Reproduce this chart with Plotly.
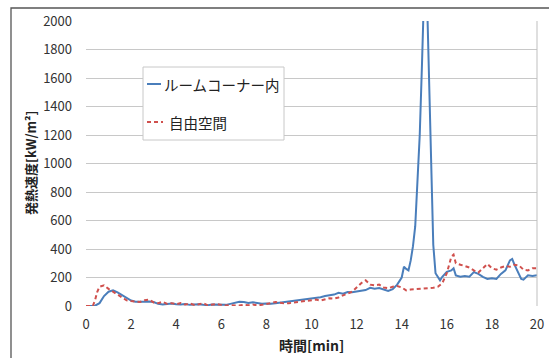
import plotly.graph_objects as go

# 時間 [min]
t_room = [0, 0.2, 0.4, 0.6, 0.8, 1.0, 1.2, 1.4, 1.6, 1.8, 2.0, 2.2, 2.4, 2.6, 2.8, 3.0,
          3.2, 3.4, 3.6, 3.8, 4.0, 4.2, 4.4, 4.6, 4.8, 5.0, 5.2, 5.4, 5.6, 5.8, 6.0,
          6.2, 6.4, 6.6, 6.8, 7.0, 7.2, 7.4, 7.6, 7.8, 8.0, 8.2, 8.4, 8.6, 8.8, 9.0,
          9.2, 9.4, 9.6, 9.8, 10.0, 10.2, 10.4, 10.6, 10.8, 11.0, 11.2, 11.4, 11.6,
          11.8, 12.0, 12.2, 12.4, 12.6, 12.8, 13.0, 13.2, 13.4, 13.6, 13.8, 14.0,
          14.1, 14.2, 14.3, 14.4, 14.5, 14.6, 14.7, 14.8, 14.9, 15.0, 15.1, 15.2,
          15.3, 15.4, 15.5, 15.6, 15.7, 15.8, 15.9, 16.0, 16.2, 16.3, 16.4, 16.6,
          16.8, 17.0, 17.2, 17.4, 17.6, 17.8, 18.0, 18.2, 18.4, 18.6, 18.8, 18.9,
          19.0, 19.2, 19.3, 19.4, 19.6, 19.8, 20.0]
# 発熱速度 [kW/m²] ルームコーナー内
q_room = [0, 0, 2, 20, 70, 100, 110, 95, 75, 55, 38, 30, 28, 30, 32, 28,
          15, 10, 14, 18, 12, 10, 14, 8, 10, 12, 8, 6, 10, 8, 6,
          8, 15, 24, 30, 28, 22, 26, 18, 15, 18, 16, 20, 24, 26, 30,
          34, 38, 42, 46, 50, 58, 62, 70, 74, 80, 92, 86, 98,
          96, 102, 108, 112, 128, 122, 126, 118, 105, 118, 150, 200,
          275, 260, 250, 320, 420, 560, 850, 1200, 1700, 2250, 2300, 1700,
          1150, 430, 230, 200, 180, 205, 225, 240, 250, 265, 215, 205,
          210, 205, 238, 225, 205, 190, 195, 190, 225, 250, 320, 330,
          290, 230, 190, 185, 215, 210, 215]

t_free = [0, 0.2, 0.3, 0.4, 0.5, 0.6, 0.8, 1.0, 1.2, 1.4, 1.6, 1.8, 2.0, 2.2, 2.4,
          2.6, 2.8, 3.0, 3.2, 3.4, 3.6, 3.8, 4.0, 4.2, 4.4, 4.6, 4.8, 5.0, 5.2,
          5.4, 5.6, 5.8, 6.0, 6.2, 6.4, 6.6, 6.8, 7.0, 7.2, 7.4, 7.6, 7.8, 8.0,
          8.2, 8.4, 8.6, 8.8, 9.0, 9.2, 9.4, 9.6, 9.8, 10.0, 10.2, 10.4, 10.6,
          10.8, 11.0, 11.2, 11.4, 11.6, 11.8, 12.0, 12.2, 12.4, 12.6, 12.8, 13.0,
          13.2, 13.4, 13.6, 13.8, 14.0, 14.2, 14.4, 14.6, 14.8, 15.0, 15.2, 15.4,
          15.6, 15.8, 16.0, 16.2, 16.3, 16.4, 16.6, 16.8, 17.0, 17.2, 17.4, 17.6,
          17.8, 18.0, 18.2, 18.4, 18.6, 18.8, 19.0, 19.2, 19.4, 19.6, 19.8, 20.0]
# 発熱速度 [kW/m²] 自由空間
q_free = [0, 0, 0, 40, 100, 135, 145, 120, 100, 80, 55, 40, 35, 30, 28,
          40, 45, 25, 20, 30, 15, 20, 12, 20, 10, 18, 8, 12, 20,
          5, 10, 14, 8, 4, 6, 2, 3, 8, 5, 10, 4, 8, 12,
          20, 28, 22, 18, 20, 25, 28, 30, 35, 40, 45, 38, 48,
          55, 52, 60, 75, 90, 100, 130, 160, 180, 150, 145, 150,
          130, 125, 135, 140, 130, 110, 115, 118, 122, 120, 125, 128,
          135, 160, 230, 345, 360, 300, 290, 280, 270, 250, 235, 265,
          295, 265, 255, 270, 280, 275, 290, 285, 255, 250, 265, 265]

x_ticks = [0, 2, 4, 6, 8, 10, 12, 14, 16, 18, 20]
y_ticks = [0, 200, 400, 600, 800, 1000, 1200, 1400, 1600, 1800, 2000]

series_names = ["ルームコーナー内", "自由空間"]
blue = "#4a7ebb"
red = "#d0504d"
font_family = "Noto Sans CJK JP"

fig = go.Figure()
fig.add_trace(go.Scatter(x=t_room, y=q_room, mode="lines", name=series_names[0],
                         line=dict(color=blue, width=2), showlegend=False))
fig.add_trace(go.Scatter(x=t_free, y=q_free, mode="lines", name=series_names[1],
                         line=dict(color=red, width=2, dash="4px,3px"), showlegend=False))

# plot-area geometry in pixels, used to place the frame and the legend box
W, H = 549, 358
L, R, T, B = 86, 537, 21, 306


def px(xp):
    return (xp - L) / (R - L)


def py(yp):
    return (B - yp) / (B - T)


shapes = [
    # outer chart frame
    dict(type="rect", xref="paper", yref="paper",
         x0=px(11), x1=px(575), y0=py(380), y1=py(8),
         line=dict(color="#555555", width=1.3), layer="below"),
    # right edge of the plot area
    dict(type="line", xref="paper", yref="paper", x0=1, x1=1, y0=0, y1=1,
         line=dict(color="#bfbfbf", width=1)),
    # legend box
    dict(type="rect", xref="paper", yref="paper",
         x0=px(143), x1=px(284), y0=py(140), y1=py(67),
         line=dict(color="#c8c8c8", width=1), fillcolor="white"),
    dict(type="line", xref="paper", yref="paper",
         x0=px(147), x1=px(161), y0=py(84), y1=py(84),
         line=dict(color=blue, width=2)),
    dict(type="line", xref="paper", yref="paper",
         x0=px(147), x1=px(163), y0=py(122), y1=py(122),
         line=dict(color=red, width=2, dash="4px,3px")),
]

annotations = [
    dict(text=series_names[0], xref="paper", yref="paper", x=px(162), y=py(84),
         xanchor="left", yanchor="middle", showarrow=False,
         font=dict(family=font_family, size=14.5, color="#222")),
    dict(text=series_names[1], xref="paper", yref="paper", x=px(167), y=py(122),
         xanchor="left", yanchor="middle", showarrow=False,
         font=dict(family=font_family, size=14.5, color="#222")),
    dict(text="<b>発熱速度[kW/m²]</b>", xref="paper", yref="paper", x=px(30), y=py(163),
         xanchor="center", yanchor="middle", textangle=-90, showarrow=False,
         font=dict(family=font_family, size=13, color="#222")),
    dict(text="<b>時間[min]</b>", xref="paper", yref="paper", x=px(311), y=py(345),
         xanchor="center", yanchor="middle", showarrow=False,
         font=dict(family=font_family, size=14, color="#222")),
]

fig.update_layout(
    width=W, height=H,
    margin=dict(l=L, r=W - R, t=T, b=H - B, pad=0),
    paper_bgcolor="white", plot_bgcolor="white",
    shapes=shapes, annotations=annotations,
    font=dict(family=font_family, size=12, color="#333"),
)
fig.update_xaxes(range=[0, 20], tickvals=x_ticks, showgrid=False, zeroline=False,
                 showline=False, ticks="", ticklabelstandoff=9, automargin=False,
                 tickfont=dict(family=font_family, size=13, color="#333"))
fig.update_yaxes(range=[0, 2000], tickvals=y_ticks, showgrid=True,
                 gridcolor="#c8c8c8", gridwidth=1, zeroline=False, showline=False,
                 ticks="", ticklabelstandoff=13, automargin=False,
                 tickfont=dict(family=font_family, size=13, color="#333"))

fig.write_html("out.html")
